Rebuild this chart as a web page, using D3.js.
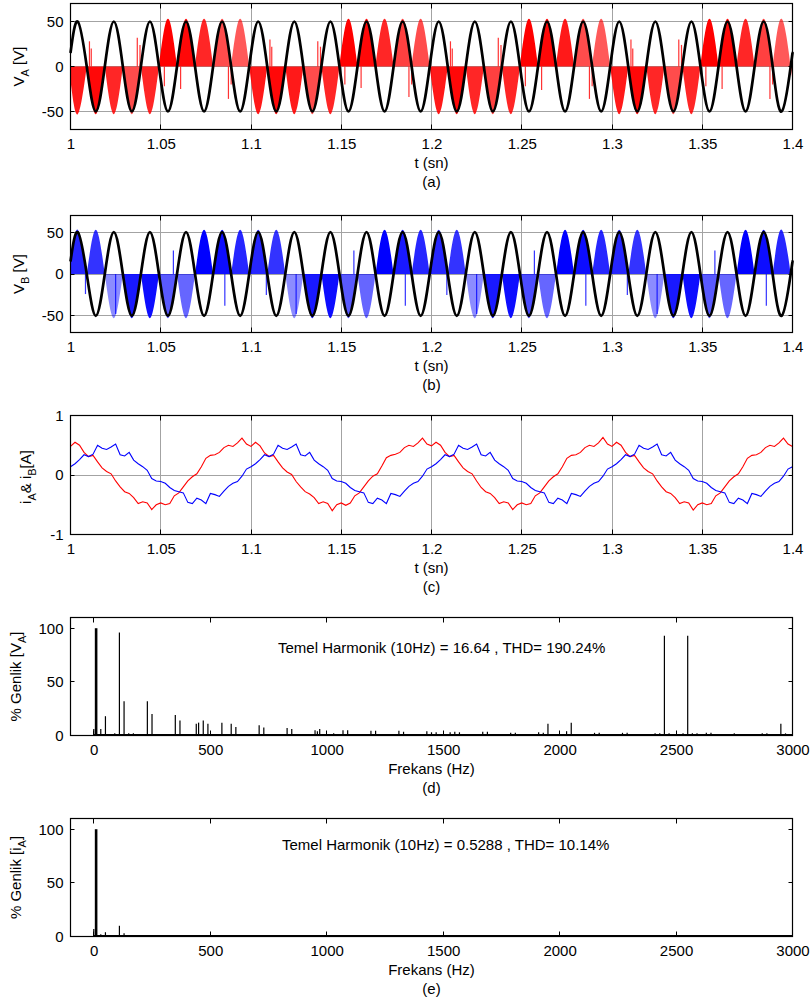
<!DOCTYPE html>
<html><head><meta charset="utf-8">
<script src="https://cdn.jsdelivr.net/npm/d3@7/dist/d3.min.js"></script>
<style>html,body{margin:0;padding:0;background:#fff}svg{display:block}</style>
</head><body>
<svg id="fig" width="810" height="1002"></svg>
<script>
// ================= DATA =================
const timeTicks = [1, 1.05, 1.1, 1.15, 1.2, 1.25, 1.3, 1.35, 1.4];
const voltTicks = [-50, 0, 50];
const currentTicks = [-1, 0, 1];
const freqTicks = [0, 500, 1000, 1500, 2000, 2500, 3000];
const percentTicks = [0, 50, 100];

// supply voltage (black): extrema and zero crossings [t (s), V]
const sourcePoints = [
[1.000,15],
[1.004,50],[1.009,0],[1.014,-50],[1.019,0],[1.024,50],[1.029,0],[1.034,-50],[1.039,0],
[1.044,50],[1.049,0],[1.054,-50],[1.059,0],[1.064,50],[1.069,0],[1.074,-50],[1.079,0],
[1.084,50],[1.089,0],[1.094,-50],[1.099,0],[1.104,50],[1.109,0],[1.114,-50],[1.119,0],
[1.124,50],[1.129,0],[1.134,-50],[1.139,0],[1.144,50],[1.149,0],[1.154,-50],[1.159,0],
[1.164,50],[1.169,0],[1.174,-50],[1.179,0],[1.184,50],[1.189,0],[1.194,-50],[1.199,0],
[1.204,50],[1.209,0],[1.214,-50],[1.219,0],[1.224,50],[1.229,0],[1.234,-50],[1.239,0],
[1.244,50],[1.249,0],[1.254,-50],[1.259,0],[1.264,50],[1.269,0],[1.274,-50],[1.279,0],
[1.284,50],[1.289,0],[1.294,-50],[1.299,0],[1.304,50],[1.309,0],[1.314,-50],[1.319,0],
[1.324,50],[1.329,0],[1.334,-50],[1.339,0],[1.344,50],[1.349,0],[1.354,-50],[1.359,0],
[1.364,50],[1.369,0],[1.374,-50],[1.379,0],[1.384,50],[1.389,0],[1.394,-50],[1.399,0],
[1.400,15]
];
const sourcePeak = 50;
const outputPeak = 53;          // chopped output humps slightly exceed the supply peak

// output voltage V_A (red): per supply half-wave hump: polarity and fill density
const vaPolarity = [-1,-1,-1,-1,-1, 1,1,1,1,1, -1,-1,-1,-1,-1, 1,1,1,1,1,
                    -1,-1,-1,-1,-1, 1,1,1,1,1, -1,-1,-1,-1,-1, 1,1,1,1,1, -1];
const vaDuty = [0.9,0.97,0.85,0.7,0.85, 1.0,0.97,0.85,0.7,0.65,
                0.9,0.97,0.9,0.7,0.85, 1.0,0.97,0.85,0.75,0.7,
                0.9,0.97,0.85,0.75,0.85, 1.0,0.97,0.9,0.7,0.65,
                0.9,0.97,0.85,0.7,0.85, 1.0,0.97,0.85,0.75,0.65, 0.7];
const vaSpikes = [[1.0105,28],[1.0115,20],[1.037,32],[1.0385,24],[1.052,-22],[1.061,-25],[1.0875,-36],[1.089,-20],
                  [1.1105,30],[1.1115,22],[1.137,28],[1.1385,22],[1.152,-20],[1.161,-24],[1.1875,-34],[1.189,-20],
                  [1.2105,28],[1.2115,20],[1.237,32],[1.2385,24],[1.252,-22],[1.261,-26],[1.2875,-36],[1.289,-22],
                  [1.3105,30],[1.3115,20],[1.337,30],[1.3385,24],[1.352,-22],[1.361,-25],[1.3875,-36],[1.389,-20]];

// output voltage V_B (blue)
const vbPolarity = [1,1,-1,-1,-1,-1,-1, 1,1,1,1,1, -1,-1,-1,-1,-1, 1,1,1,1,1,
                    -1,-1,-1,-1,-1, 1,1,1,1,1, -1,-1,-1,-1,-1, 1,1,1,1];
const vbDuty = [0.85,0.8,0.45,0.9,0.95,0.65,0.6, 1.0,0.95,0.85,0.85,0.8,
                0.45,0.9,0.95,0.65,0.6, 1.0,0.9,0.85,0.85,0.8,
                0.45,0.9,0.95,0.7,0.6, 1.0,0.95,0.85,0.85,0.8,
                0.45,0.9,0.95,0.65,0.6, 1.0,0.95,0.85,0.85];
const vbSpikes = [[1.0083,-24],[1.025,-48],[1.057,28],[1.0855,-38],[1.1085,-25],[1.125,-48],[1.157,28],[1.1855,-38],
                  [1.2085,-25],[1.225,-48],[1.257,28],[1.2855,-38],[1.3085,-25],[1.325,-48],[1.357,28],[1.3855,-38]];

// load currents, sampled every 2.5 ms from t = 1.0 to 1.4
const currentStep = 0.0025;
const iA = [
0.48,0.55,0.50,0.38,0.31,0.33,0.22,0.12,0.06,0.02,-0.10,-0.20,-0.28,-0.31,-0.38,-0.48,-0.45,-0.47,-0.58,-0.50,
-0.47,-0.50,-0.48,-0.35,-0.30,-0.20,-0.10,-0.03,0.02,0.14,0.28,0.33,0.34,0.38,0.46,0.50,0.48,0.54,0.62,0.52,
0.48,0.55,0.49,0.37,0.31,0.33,0.22,0.12,0.05,0.01,-0.11,-0.20,-0.28,-0.32,-0.38,-0.48,-0.45,-0.48,-0.60,-0.50,
-0.47,-0.51,-0.47,-0.35,-0.30,-0.20,-0.10,-0.02,0.02,0.15,0.29,0.33,0.35,0.38,0.46,0.50,0.48,0.54,0.62,0.52,
0.49,0.55,0.50,0.38,0.31,0.33,0.22,0.12,0.06,0.02,-0.10,-0.21,-0.28,-0.31,-0.38,-0.48,-0.45,-0.47,-0.58,-0.50,
-0.47,-0.50,-0.48,-0.35,-0.30,-0.20,-0.10,-0.03,0.02,0.14,0.28,0.33,0.34,0.38,0.46,0.50,0.48,0.54,0.63,0.52,
0.48,0.55,0.50,0.38,0.31,0.33,0.22,0.12,0.06,0.02,-0.10,-0.20,-0.28,-0.31,-0.38,-0.48,-0.45,-0.47,-0.59,-0.50,
-0.47,-0.50,-0.48,-0.35,-0.30,-0.20,-0.10,-0.03,0.02,0.14,0.28,0.33,0.34,0.38,0.46,0.50,0.48,0.54,0.62,0.52,
0.48];
const iB = [
0.14,0.19,0.26,0.34,0.31,0.35,0.50,0.45,0.43,0.47,0.52,0.34,0.32,0.38,0.25,0.19,0.14,0.08,-0.06,-0.10,
-0.11,-0.14,-0.21,-0.26,-0.28,-0.30,-0.46,-0.48,-0.39,-0.42,-0.48,-0.31,-0.33,-0.36,-0.27,-0.19,-0.14,-0.11,-0.02,0.10,
0.14,0.19,0.26,0.34,0.31,0.35,0.50,0.45,0.43,0.47,0.52,0.34,0.32,0.38,0.25,0.19,0.14,0.08,-0.06,-0.10,
-0.11,-0.14,-0.21,-0.26,-0.28,-0.30,-0.46,-0.48,-0.39,-0.42,-0.48,-0.31,-0.33,-0.36,-0.27,-0.19,-0.14,-0.11,-0.02,0.10,
0.14,0.19,0.26,0.34,0.31,0.35,0.50,0.45,0.43,0.47,0.52,0.34,0.32,0.38,0.25,0.19,0.14,0.08,-0.06,-0.10,
-0.11,-0.14,-0.21,-0.26,-0.28,-0.30,-0.46,-0.48,-0.39,-0.42,-0.48,-0.31,-0.33,-0.36,-0.27,-0.19,-0.14,-0.11,-0.02,0.10,
0.14,0.19,0.26,0.34,0.31,0.35,0.50,0.45,0.43,0.47,0.52,0.34,0.32,0.38,0.25,0.19,0.14,0.08,-0.06,-0.10,
-0.11,-0.14,-0.21,-0.26,-0.28,-0.30,-0.46,-0.48,-0.39,-0.42,-0.48,-0.31,-0.33,-0.36,-0.27,-0.19,-0.14,-0.11,-0.02,0.10,
0.14];

// harmonic spectra (% of fundamental)
const vaSpecFreq = [0,10,30,50,90,110,130,150,170,230,250,350,370,440,450,470,490,550,590,610,710,730,830,850,930,950,960,970,
  1030,1070,1090,1190,1210,1310,1330,1430,1450,1470,1530,1550,1570,1670,1690,1790,1810,1910,1930,1950,2030,2050,
  2150,2170,2270,2290,2350,2410,2430,2450,2470,2530,2550,2570,2590,2630,2650,2750,2870,2890,2950,2970];
const vaSpecMag = [6,100,6,18,2,96,32,2,2,32,20,19,14,11,12,14,11,12,11,8,9.5,7.5,7,6,1.5,5,4,6,
  2,5,5,4.5,4.5,4.5,3.5,4,3,3,3,3.5,3,3.5,3.5,2.5,2.5,3,2.5,11,4,12,
  2.5,2.5,2.5,2.5,1.5,2,2,93,2,2,93,2,2,2.5,2.5,2,2,2,11,2];
const iaSpecFreq = [0,10,30,50,110,130,230];
const iaSpecMag = [7,100,2,4,10,3,1];

const vaNote = "Temel Harmonik (10Hz) = 16.64 , THD= 190.24%";
const iaNote = "Temel Harmonik (10Hz) = 0.5288 , THD= 10.14%";

// ================= DRAWING =================
const FONT = "'Liberation Sans', Arial, Helvetica, sans-serif";
const FS = 15;
const svg = d3.select("#fig").attr("font-family", FONT);
const defs = svg.append("defs");
const X0 = 70.5, X1 = 792.5, XC = (X0 + X1) / 2;
const GRID = "#a3a3a3";

function crisp(v){ return Math.round(v - 0.5) + 0.5; }

function gridLines(x, y, xt, yt, top, bottom) {
  const gg = svg.append("g").attr("stroke", GRID).attr("stroke-width", 1);
  xt.forEach(v => { const px = crisp(x(v)); if (px > X0 + 1 && px < X1 - 1)
    gg.append("line").attr("x1", px).attr("x2", px).attr("y1", top).attr("y2", bottom); });
  yt.forEach(v => { const py = crisp(y(v)); if (py > top + 1 && py < bottom - 1)
    gg.append("line").attr("x1", X0).attr("x2", X1).attr("y1", py).attr("y2", py); });
}

function frame(x, y, xt, yt, top, bottom) {
  const g = svg.append("g").attr("stroke", "#000").attr("stroke-width", 1).attr("fill", "none");
  xt.forEach(v => { const px = crisp(x(v));
    g.append("line").attr("x1", px).attr("x2", px).attr("y1", bottom).attr("y2", bottom - 5);
    g.append("line").attr("x1", px).attr("x2", px).attr("y1", top).attr("y2", top + 5); });
  yt.forEach(v => { const py = crisp(y(v));
    g.append("line").attr("x1", X0).attr("x2", X0 + 4).attr("y1", py).attr("y2", py);
    g.append("line").attr("x1", X1).attr("x2", X1 - 4).attr("y1", py).attr("y2", py); });
  g.append("rect").attr("x", X0).attr("y", top).attr("width", X1 - X0).attr("height", bottom - top)
    .attr("stroke-width", 1.2);
  const bx = svg.append("g").attr("transform", `translate(0,${bottom})`)
    .call(d3.axisBottom(x).tickValues(xt).tickFormat(d => String(d)).tickSize(0).tickPadding(8.5));
  bx.select(".domain").remove();
  bx.attr("font-size", FS).attr("font-family", FONT);
  const ly = svg.append("g").attr("transform", `translate(${X0},0)`)
    .call(d3.axisLeft(y).tickValues(yt).tickFormat(d => String(d)).tickSize(0).tickPadding(7));
  ly.select(".domain").remove();
  ly.attr("font-size", FS).attr("font-family", FONT);
}

function titles(bottom, xTitle, caption) {
  svg.append("text").attr("x", XC).attr("y", bottom + 38).attr("text-anchor", "middle")
    .attr("font-size", FS).text(xTitle);
  svg.append("text").attr("x", XC).attr("y", bottom + 57).attr("text-anchor", "middle")
    .attr("font-size", FS).text(caption);
}

function yLabel(parts, bx, yc) {
  const t = svg.append("text").attr("transform", `translate(${bx},${yc}) rotate(-90)`)
    .attr("text-anchor", "middle").attr("font-size", FS);
  let shift = 0;
  parts.forEach(([s, sub]) => {
    const target = sub ? 4.5 : 0;
    t.append("tspan").attr("dy", target - shift).attr("font-size", sub ? 11 : FS).text(s);
    shift = target;
  });
}

function timeScale() { return d3.scaleLinear().domain([1, 1.4]).range([X0, X1]); }

const zeroTimes = sourcePoints.filter(p => p[1] === 0).map(p => p[0]);
const humpEdges = [1.0, ...zeroTimes, 1.4];

function pwmPanel(top, bottom, polarity, duty, spikes, color, id) {
  const x = timeScale();
  const y = d3.scaleLinear().domain([-70, 70]).range([bottom, top]);
  gridLines(x, y, timeTicks, voltTicks, top, bottom);
  const k = outputPeak / sourcePeak;
  const env = d3.area().x(d => x(d[0])).y0(d => y(-k * d[1])).y1(d => y(k * d[1])).curve(d3.curveNatural);
  defs.append("clipPath").attr("id", id).append("path").attr("d", env(sourcePoints));
  const humps = polarity.map((p, i) => ({ t0: humpEdges[i], t1: humpEdges[i + 1], p, d: duty[i] }));
  svg.append("g").attr("clip-path", `url(#${id})`).attr("fill", color)
    .selectAll("rect").data(humps).join("rect")
    .attr("x", h => x(h.t0)).attr("width", h => x(h.t1) - x(h.t0))
    .attr("y", h => h.p > 0 ? y(70) : y(0))
    .attr("height", y(0) - y(70))
    .attr("fill-opacity", h => h.d);
  svg.append("g").attr("stroke", color).attr("stroke-width", 1.2).attr("stroke-opacity", 0.8)
    .selectAll("line").data(spikes).join("line")
    .attr("x1", d => x(d[0])).attr("x2", d => x(d[0])).attr("y1", y(0)).attr("y2", d => y(d[1]));
  const line = d3.line().x(d => x(d[0])).y(d => y(d[1])).curve(d3.curveNatural);
  svg.append("path").attr("d", line(sourcePoints)).attr("fill", "none")
    .attr("stroke", "#000").attr("stroke-width", 2.7).attr("stroke-linejoin", "round");
  frame(x, y, timeTicks, voltTicks, top, bottom);
}

// (a)
pwmPanel(3.5, 129.5, vaPolarity, vaDuty, vaSpikes, "#ff0000", "envA");
titles(129.5, "t (sn)", "(a)");
yLabel([["V"], ["A", true], [" [V]"]], 24, 66.5);

// (b)
pwmPanel(215.5, 332.5, vbPolarity, vbDuty, vbSpikes, "#0000ff", "envB");
titles(332.5, "t (sn)", "(b)");
yLabel([["V"], ["B", true], [" [V]"]], 24, 274);

// (c) currents
(function () {
  const top = 415.5, bottom = 534.5;
  const x = timeScale();
  const y = d3.scaleLinear().domain([-1, 1]).range([bottom, top]);
  gridLines(x, y, timeTicks, currentTicks, top, bottom);
  const line = d3.line().x((d, i) => x(1 + i * currentStep)).y(d => y(d));
  svg.append("path").attr("d", line(iA)).attr("fill", "none").attr("stroke", "#ff0000").attr("stroke-width", 1.1);
  svg.append("path").attr("d", line(iB)).attr("fill", "none").attr("stroke", "#0000ff").attr("stroke-width", 1.1);
  frame(x, y, timeTicks, currentTicks, top, bottom);
  titles(bottom, "t (sn)", "(c)");
  yLabel([["i"], ["A", true], ["& i"], ["B", true], ["[A]"]], 31, 477);
})();

// (d), (e) spectra
function spectrumPanel(top, bottom, freqs, mags, note, noteX, noteY, caption, labelParts) {
  const x = d3.scaleLinear().domain([-100, 3000]).range([X0, X1]);
  const y = d3.scaleLinear().domain([0, 110]).range([bottom, top]);
  const data = freqs.map((f, i) => [f, mags[i]]);
  const maxMag = d3.max(mags);
  svg.append("line").attr("x1", x(0)).attr("x2", X1).attr("y1", y(0) - 0.8).attr("y2", y(0) - 0.8)
    .attr("stroke", "#000").attr("stroke-width", 1.4);
  svg.append("g").attr("stroke", "#000").selectAll("line").data(data).join("line")
    .attr("x1", d => x(d[0])).attr("x2", d => x(d[0]))
    .attr("y1", y(0)).attr("y2", d => y(d[1]))
    .attr("stroke-width", d => d[1] === maxMag ? 2.6 : 1.2);
  svg.append("text").attr("x", noteX).attr("y", noteY).attr("font-size", FS).text(note);
  frame(x, y, freqTicks, percentTicks, top, bottom);
  titles(bottom, "Frekans (Hz)", caption);
  yLabel(labelParts, 21, (top + bottom) / 2);
}

spectrumPanel(617.5, 735.5, vaSpecFreq, vaSpecMag, vaNote, 278, 653, "(d)", [["% Genlik [V"], ["A", true], ["]"]]);
spectrumPanel(818.5, 936.5, iaSpecFreq, iaSpecMag, iaNote, 282, 850, "(e)", [["% Genlik [i"], ["A", true], ["]"]]);
</script>
</body></html>
